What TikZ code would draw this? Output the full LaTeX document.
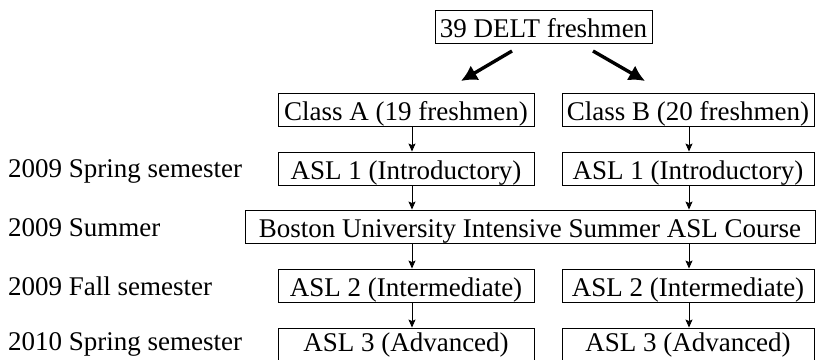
\documentclass[tikz,border=0pt]{standalone}
\usepackage{fontspec}
\setmainfont{Liberation Serif}
\usetikzlibrary{arrows.meta,calc}
\begin{document}
\begin{tikzpicture}[x=1pt,y=-1pt,
  box/.style={draw, line width=0.9pt, inner xsep=0pt, inner ysep=0pt,
    minimum height=33pt, text height=27pt, text depth=6pt, anchor=center,
    font=\fontsize{27}{30}\selectfont},
  lastbox/.style={box, text height=23pt, text depth=10pt},
  lab/.style={anchor=base west, inner sep=0pt, font=\fontsize{27}{30}\selectfont},
  thin arrow/.style={line width=0.9pt, -{Stealth[length=8pt,width=7pt,inset=1.5pt]}},
  thick arrow/.style={line width=3.4pt, -{Latex[length=16pt,width=17pt]}}]
\useasboundingbox (0,0) rectangle (817,359);
% boxes
\node[box, minimum width=217pt] (top) at (543.5,26.5) {39 DELT freshmen};
\node[box, minimum width=256pt] (ca) at (406,109.5) {Class A (19 freshmen)};
\node[box, minimum width=252pt] (cb) at (688,109.5) {Class B (20 freshmen)};
\node[box, minimum width=256pt] (a1) at (406,168.5) {ASL 1 (Introductory)};
\node[box, minimum width=252pt] (b1) at (688,168.5) {ASL 1 (Introductory)};
\node[box, minimum width=570pt] (bu) at (530,226.5) {Boston University Intensive Summer ASL Course};
\node[box, minimum width=256pt] (a2) at (406,285.5) {ASL 2 (Intermediate)};
\node[box, minimum width=252pt] (b2) at (688,285.5) {ASL 2 (Intermediate)};
\node[lastbox, minimum width=256pt] (a3) at (406,344.5) {ASL 3 (Advanced)};
\node[lastbox, minimum width=252pt] (b3) at (688,344.5) {ASL 3 (Advanced)};
% left labels
\node[lab] (l1) at (8,177.5) {2009 Spring semester};
\node[lab] (l2) at (8,236.5) {2009 Summer};
\node[lab] (l3) at (8,295) {2009 Fall semester};
\node[lab] (l4) at (8,350.5) {2010 Spring semester};
% thick diagonal arrows
\coordinate (ls) at (512,51);
\coordinate (le) at (461,81);
\coordinate (rs) at (593,51);
\coordinate (re) at (645,81);
\draw[thick arrow] (ls) -- (le);
\draw[thick arrow] (rs) -- (re);
% vertical arrows
\coordinate (ax) at (412,0);
\coordinate (bx) at (689,0);
\draw[thin arrow] (ca.south -| ax) -- (a1.north -| ax);
\draw[thin arrow] (cb.south -| bx) -- (b1.north -| bx);
\draw[thin arrow] (a1.south -| ax) -- (bu.north -| ax);
\draw[thin arrow] (b1.south -| bx) -- (bu.north -| bx);
\draw[thin arrow] (bu.south -| ax) -- (a2.north -| ax);
\draw[thin arrow] (bu.south -| bx) -- (b2.north -| bx);
\draw[thin arrow] (a2.south -| ax) -- (a3.north -| ax);
\draw[thin arrow] (b2.south -| bx) -- (b3.north -| bx);
\end{tikzpicture}
\end{document}
